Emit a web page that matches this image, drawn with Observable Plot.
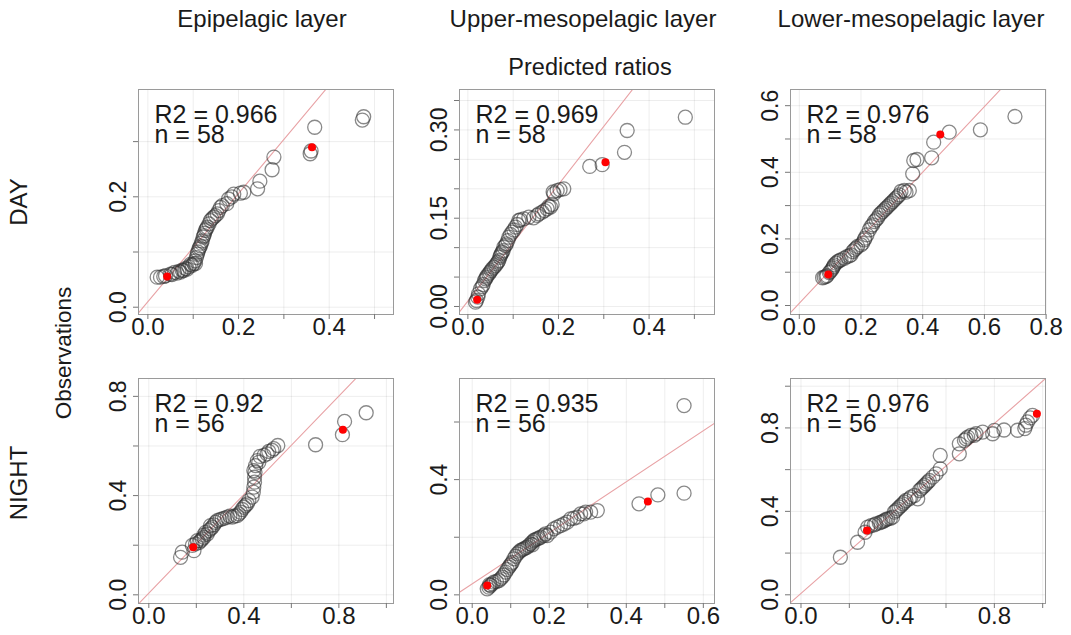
<!DOCTYPE html>
<html><head><meta charset="utf-8">
<script src="https://cdn.jsdelivr.net/npm/d3@7"></script>
<script src="https://cdn.jsdelivr.net/npm/@observablehq/plot@0.6"></script>
<style>
body{margin:0;background:#fff;}
#fig{position:relative;width:1071px;height:635px;overflow:hidden;font-family:"Liberation Sans",Arial,sans-serif;color:#1a1a1a;}
.lbl{position:absolute;white-space:nowrap;transform:translate(-50%,-50%);line-height:1;}
.rot{transform:translate(-50%,-50%) rotate(-90deg);}
.panel{position:absolute;}
</style></head><body><div id="fig"></div>
<script>
// ---------- data ----------
const columnTitles = ["Epipelagic layer", "Upper-mesopelagic layer", "Lower-mesopelagic layer"];
const rowTitles = ["DAY", "NIGHT"];
const xTitle = "Predicted ratios";
const yTitle = "Observations";
const r2Values = ["0.966", "0.969", "0.976", "0.92", "0.935", "0.976"];
const nValues = [58, 58, 58, 56, 56, 56];
const fitIntercept = [0.010, 0.0093, 0.0068, 0.0067, 0.038, 0.0068];
const fitSlope = [0.98, 0.989, 0.984, 0.993, 0.886, 1.018];

const dayEpiPred = [0.0205,0.0278,0.0389,0.0499,0.0587,0.0683,0.0757,0.083,0.0903,0.0977,0.105,0.104,0.109,0.1124,0.116,0.1199,0.1236,0.127,0.131,0.138,0.145,0.153,0.1565,0.160,0.174,0.178,0.1895,0.2116,0.242,0.247,0.274,0.278,0.358,0.360,0.368,0.473,0.476,0.0866,0.094,0.107,0.114,0.122,0.125,0.135,0.149,0.164,0.072,0.079,0.101,0.1103,0.118,0.129,0.141,0.0645,0.053,0.035,0.185,0.204];
const dayEpiObs = [0.0544,0.0544,0.057,0.060,0.063,0.065,0.067,0.070,0.073,0.076,0.079,0.084,0.096,0.105,0.111,0.120,0.1298,0.139,0.145,0.157,0.163,0.169,0.175,0.181,0.1875,0.196,0.205,0.2083,0.2145,0.2283,0.249,0.272,0.278,0.283,0.326,0.339,0.345,0.0689,0.0775,0.090,0.108,0.127,0.134,0.151,0.166,0.184,0.0635,0.0665,0.079,0.100,0.116,0.142,0.160,0.0617,0.0593,0.0557,0.200,0.2065];
const dayEpiRedPred = [0.0425, 0.362];
const dayEpiRedObs = [0.0557, 0.290];

const dayUpPred = [0.480,0.3516,0.3457,0.2965,0.269,0.2117,0.197,0.1882,0.186,0.1786,0.175,0.164,0.153,0.145,0.1345,0.1235,0.1124,0.109,0.105,0.0977,0.0904,0.085,0.0793,0.0757,0.072,0.0683,0.0632,0.0573,0.0514,0.0463,0.0411,0.0367,0.0337,0.0278,0.0219,0.0168,0.0426,0.0536,0.061,0.0706,0.078,0.083,0.0883,0.094,0.1014,0.116,0.0315,0.039,0.0485,0.066,0.0735,0.0234,0.019,0.1823,0.169,0.1567,0.190,0.2035];
const dayUpObs = [0.3216,0.299,0.262,0.241,0.238,0.200,0.197,0.1945,0.1734,0.170,0.166,0.1603,0.1547,0.1507,0.1518,0.149,0.1461,0.1393,0.135,0.1263,0.1177,0.1064,0.1007,0.0922,0.0866,0.078,0.0723,0.0667,0.061,0.0554,0.0497,0.044,0.0373,0.030,0.0158,0.0074,0.0526,0.0638,0.0695,0.0837,0.095,0.1035,0.112,0.1223,0.130,0.1473,0.0339,0.047,0.0582,0.0753,0.0894,0.0215,0.0102,0.169,0.163,0.1575,0.1917,0.1985];
const dayUpRedPred = [0.0205, 0.3037];
const dayUpRedObs = [0.0114, 0.245];

const dayLowPred = [0.699,0.587,0.486,0.4356,0.429,0.3815,0.371,0.3675,0.3566,0.3404,0.3296,0.3242,0.3134,0.3026,0.2918,0.281,0.2702,0.2594,0.2486,0.2378,0.2269,0.2193,0.2129,0.2053,0.1891,0.1783,0.1675,0.1545,0.135,0.1243,0.1135,0.1081,0.1005,0.081,0.0864,0.119,0.130,0.146,0.173,0.184,0.200,0.2107,0.2324,0.2432,0.254,0.2648,0.2756,0.2864,0.2972,0.308,0.319,0.1048,0.111,0.0972,0.0756,0.0897,0.3458,0.162];
const dayLowObs = [0.5676,0.5275,0.5205,0.4905,0.4435,0.4384,0.4354,0.3955,0.3453,0.3453,0.3423,0.3323,0.3223,0.312,0.302,0.292,0.282,0.272,0.257,0.2422,0.227,0.2122,0.2022,0.1872,0.1772,0.167,0.152,0.147,0.137,0.132,0.122,0.112,0.102,0.085,0.0866,0.127,0.135,0.142,0.162,0.172,0.182,0.197,0.237,0.252,0.2633,0.2773,0.287,0.297,0.307,0.317,0.327,0.107,0.117,0.099,0.0833,0.0896,0.3403,0.149];
const dayLowRedPred = [0.094, 0.457];
const dayLowRedObs = [0.0931, 0.5135];

const nightEpiPred = [0.915,0.824,0.815,0.702,0.543,0.526,0.505,0.485,0.468,0.457,0.4495,0.442,0.445,0.442,0.435,0.414,0.400,0.386,0.372,0.351,0.330,0.309,0.288,0.274,0.260,0.246,0.225,0.211,0.190,0.1406,0.1336,0.197,0.204,0.218,0.232,0.239,0.253,0.267,0.281,0.299,0.319,0.341,0.361,0.379,0.393,0.407,0.421,0.440,0.445,0.447,0.463,0.498,0.519,0.183,0.232,0.260];
const nightEpiObs = [0.734,0.699,0.6455,0.605,0.602,0.589,0.578,0.562,0.558,0.541,0.521,0.501,0.474,0.434,0.394,0.367,0.353,0.333,0.319,0.313,0.313,0.306,0.299,0.282,0.266,0.245,0.225,0.211,0.178,0.172,0.151,0.205,0.218,0.218,0.232,0.252,0.259,0.272,0.292,0.303,0.309,0.317,0.317,0.326,0.344,0.360,0.380,0.414,0.454,0.494,0.534,0.568,0.582,0.199,0.241,0.279];
const nightEpiRedPred = [0.187, 0.817];
const nightEpiRedObs = [0.192, 0.665];

const nightUpPred = [0.550,0.550,0.482,0.433,0.3247,0.3074,0.2944,0.2814,0.2727,0.2554,0.2468,0.2294,0.2121,0.2035,0.1948,0.1861,0.1775,0.1688,0.160,0.1515,0.1428,0.1342,0.1255,0.1169,0.1082,0.1013,0.0952,0.0866,0.0779,0.0693,0.0563,0.0476,0.039,0.1125,0.121,0.130,0.1385,0.147,0.156,0.164,0.173,0.1905,0.2207,0.238,0.264,0.104,0.098,0.091,0.082,0.0736,0.063,0.052,0.0433,0.290,0.156,0.045];
const nightUpObs = [0.657,0.353,0.347,0.316,0.2927,0.287,0.287,0.281,0.2696,0.2638,0.2522,0.2406,0.229,0.2175,0.206,0.206,0.200,0.1944,0.1886,0.177,0.1655,0.1597,0.154,0.1423,0.125,0.1076,0.096,0.0787,0.0613,0.0498,0.044,0.0324,0.0208,0.134,0.148,0.157,0.163,0.171,0.183,0.192,0.1967,0.212,0.235,0.246,0.266,0.113,0.102,0.088,0.069,0.0556,0.0463,0.0382,0.0266,0.281,0.174,0.035];
const nightUpRedPred = [0.039, 0.456];
const nightUpRedObs = [0.0324, 0.324];

const nightLowPred = [0.958,0.948,0.937,0.930,0.926,0.896,0.800,0.793,0.7515,0.717,0.703,0.690,0.676,0.655,0.655,0.576,0.576,0.559,0.545,0.531,0.518,0.504,0.490,0.483,0.469,0.448,0.428,0.414,0.400,0.386,0.379,0.359,0.345,0.331,0.310,0.290,0.276,0.265,0.234,0.163,0.303,0.324,0.338,0.352,0.370,0.393,0.407,0.421,0.434,0.455,0.497,0.511,0.524,0.724,0.683,0.840];
const nightLowObs = [0.860,0.848,0.829,0.813,0.797,0.789,0.788,0.772,0.780,0.764,0.764,0.756,0.740,0.724,0.676,0.668,0.604,0.580,0.564,0.548,0.532,0.516,0.500,0.460,0.476,0.460,0.444,0.428,0.412,0.396,0.372,0.364,0.356,0.348,0.340,0.332,0.324,0.300,0.252,0.180,0.335,0.345,0.351,0.361,0.367,0.404,0.420,0.436,0.452,0.468,0.508,0.524,0.540,0.772,0.748,0.790];
const nightLowRedPred = [0.976, 0.273];
const nightLowRedObs = [0.868, 0.308];

// tick values
const xTicksA = [0, 0.1, 0.2, 0.3, 0.4, 0.5];
const xLabelsA = [0, 0.2, 0.4];
const xTicksB = [0, 0.2, 0.4, 0.6, 0.8];
const xTicksC = [0, 0.2, 0.4, 0.6, 0.8, 1.0];
const xLabelsC = [0, 0.4, 0.8];
const xTicksD = [0, 0.1, 0.2, 0.3, 0.4, 0.5, 0.6];
const xLabelsD = [0, 0.2, 0.4, 0.6];
const yTicksA = [0, 0.1, 0.2, 0.3];
const yLabelsA = [0, 0.2];
const yTicksB = [0, 0.05, 0.1, 0.15, 0.2, 0.25, 0.3, 0.35];
const yLabelsB = [0, 0.15, 0.3];
const yTicksC = [0, 0.1, 0.2, 0.3, 0.4, 0.5, 0.6];
const yLabelsC = [0, 0.2, 0.4, 0.6];
const yTicksD = [0, 0.2, 0.4, 0.6, 0.8];
const yLabelsD = [0, 0.4, 0.8];
const yTicksE = [0, 0.2, 0.4, 0.6];
const yLabelsE = [0, 0.4];
const yTicksF = [0, 0.2, 0.4, 0.6, 0.8, 1.0];

// ---------- layout ----------
const fig = document.getElementById("fig");
const colLeft = [138, 459, 789.5];
const rowTop = [89, 378];
const plotW = 255, plotH = 225;
const mL = 60, mR = 28, mT = 10, mB = 40;
const fmt1 = d3.format(".1f"), fmt2 = d3.format(".2f");

const panels = [
  {pred: dayEpiPred, obs: dayEpiObs, rp: dayEpiRedPred, ro: dayEpiRedObs, xT: xTicksA, xL: xLabelsA, yT: yTicksA, yL: yLabelsA, yf: fmt1, xDom: [-0.0207, 0.5418], yDom: [-0.0132, 0.3944], col: 0, row: 0},
  {pred: dayUpPred, obs: dayUpObs, rp: dayUpRedPred, ro: dayUpRedObs, xT: xTicksA, xL: xLabelsA, yT: yTicksB, yL: yLabelsB, yf: fmt2, xDom: [-0.0185, 0.5444], yDom: [-0.0136, 0.3687], col: 1, row: 0},
  {pred: dayLowPred, obs: dayLowObs, rp: dayLowRedPred, ro: dayLowRedObs, xT: xTicksB, xL: xTicksB, yT: yTicksC, yL: yLabelsC, yf: fmt1, xDom: [-0.0285, 0.798], yDom: [-0.027, 0.6486], col: 2, row: 0},
  {pred: nightEpiPred, obs: nightEpiObs, rp: nightEpiRedPred, ro: nightEpiRedObs, xT: xTicksC, xL: xLabelsC, yT: yTicksD, yL: yLabelsD, yf: fmt1, xDom: [-0.0434, 1.030], yDom: [-0.035, 0.872], col: 0, row: 1},
  {pred: nightUpPred, obs: nightUpObs, rp: nightUpRedPred, ro: nightUpRedObs, xT: xTicksD, xL: xLabelsD, yT: yTicksE, yL: yLabelsE, yf: fmt1, xDom: [-0.033, 0.629], yDom: [-0.030, 0.751], col: 1, row: 1},
  {pred: nightLowPred, obs: nightLowObs, rp: nightLowRedPred, ro: nightLowRedObs, xT: xTicksC, xL: xLabelsC, yT: yTicksF, yL: yLabelsD, yf: fmt1, xDom: [-0.0434, 1.0116], yDom: [-0.0417, 1.037], col: 2, row: 1}
];

panels.forEach((p, i) => {
  const pts = p.pred.map((x, k) => ({x, y: p.obs[k]}));
  const red = p.rp.map((x, k) => ({x, y: p.ro[k]}));
  const fit = p.xDom.map(x => ({x, y: fitIntercept[i] + fitSlope[i] * x}));
  const chart = Plot.plot({
    width: plotW + mL + mR,
    height: plotH + mT + mB,
    marginLeft: mL, marginRight: mR, marginTop: mT, marginBottom: mB,
    style: {fontFamily: '"Liberation Sans", Arial, sans-serif', background: "transparent", overflow: "visible", color: "#1a1a1a"},
    x: {domain: p.xDom},
    y: {domain: p.yDom},
    marks: [
      Plot.gridX(p.xT, {stroke: "#000", strokeOpacity: 0.07}),
      Plot.gridY(p.yT, {stroke: "#000", strokeOpacity: 0.07}),
      Plot.line(fit, {x: "x", y: "y", stroke: "#e8a2a5", strokeWidth: 1.1, clip: true}),
      Plot.dot(pts, {x: "x", y: "y", r: 7, stroke: "#333", strokeOpacity: 0.58, strokeWidth: 1.3, fill: "none"}),
      Plot.dot(red, {x: "x", y: "y", r: 4, fill: "#ff0000", stroke: "none"}),
      Plot.frame({stroke: "#9a9a9a"}),
      Plot.axisX(p.xT, {label: null, tickSize: 5, tickFormat: () => "", stroke: "#777"}),
      Plot.axisX(p.xL, {label: null, tickSize: 0, tickPadding: 3, tickFormat: fmt1, fontSize: 24, fill: "#1a1a1a"}),
      Plot.axisY(p.yT, {label: null, tickSize: 5, tickFormat: () => "", stroke: "#777"}),
      Plot.axisY(p.yL, {label: null, tickSize: 0, tickPadding: 12.5, tickRotate: -90, textAnchor: "middle", lineAnchor: "bottom", tickFormat: p.yf, fontSize: 23, fill: "#1a1a1a"}),
      Plot.text([`R2 = ${r2Values[i]}\nn = ${nValues[i]}`], {frameAnchor: "top-left", dx: 16, dy: 19.5, textAnchor: "start", lineAnchor: "top", lineHeight: 0.8, fontSize: 25, fill: "#1a1a1a"})
    ]
  });
  chart.classList.add("panel");
  chart.style.left = (colLeft[p.col] - mL) + "px";
  chart.style.top = (rowTop[p.row] - mT) + "px";
  fig.appendChild(chart);
});

function addLabel(text, x, y, size, rotate) {
  const d = document.createElement("div");
  d.className = "lbl" + (rotate ? " rot" : "");
  d.textContent = text;
  d.style.left = x + "px";
  d.style.top = y + "px";
  d.style.fontSize = size + "px";
  fig.appendChild(d);
}
const titleX = [262, 583, 911];
columnTitles.forEach((t, i) => addLabel(t, titleX[i], 19, 24, false));
addLabel(xTitle, 590, 68, 23.5, false);
addLabel(rowTitles[0], 19, 202, 24, true);
addLabel(rowTitles[1], 19, 483, 24, true);
addLabel(yTitle, 64, 353, 22.5, true);
</script></body></html>
